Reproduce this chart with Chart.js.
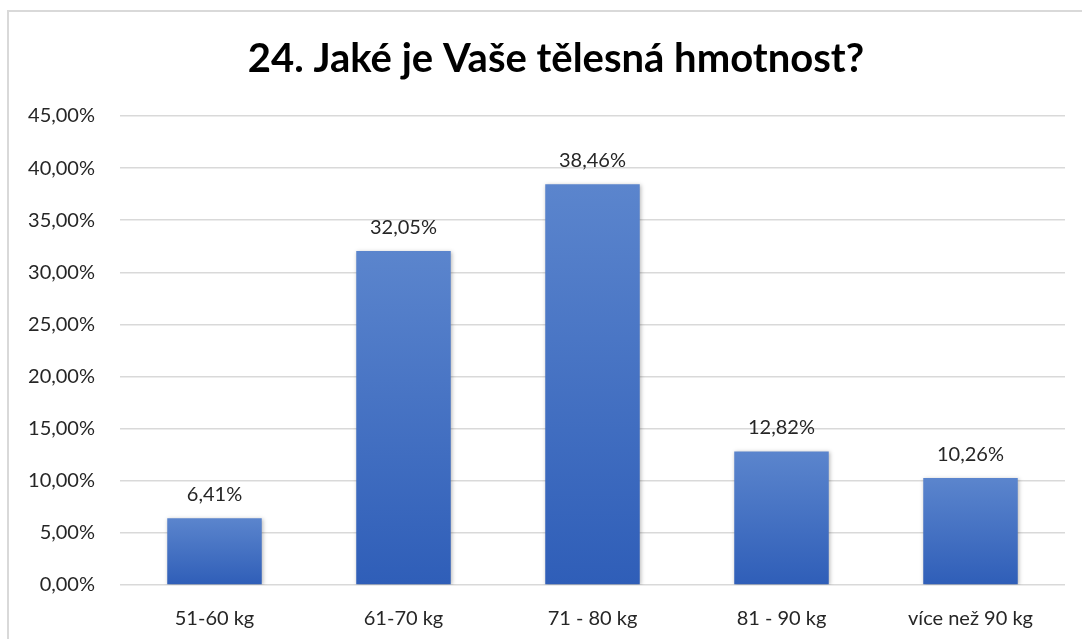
<!DOCTYPE html>
<html>
<head>
<meta charset="utf-8">
<script src="https://cdn.jsdelivr.net/npm/chart.js@4"></script>
<style>
    html, body { margin: 0; padding: 0; background: #fff; }
    #frame { position: absolute; left: 7px; top: 10px; width: 1100px; height: 700px; border-left: 2px solid #d9d9d9; border-top: 2px solid #d9d9d9; }
    #wrap { position: absolute; left: 0; top: 0; width: 1082px; height: 639px; }
</style>
</head>
<body>
<div id="frame"></div>
<div id="wrap"><canvas id="weightChart"></canvas></div>
<script>
// survey answers, question 24 (body weight)

const categories = ['51-60 kg', '61-70 kg', '71 - 80 kg', '81 - 90 kg', 'více než 90 kg'];
const percentValues = [6.41, 32.05, 38.46, 12.82, 10.26];
const yTicks = [0, 5, 10, 15, 20, 25, 30, 35, 40, 45];

const chartTitle = '24. Jaké je Vaše tělesná hmotnost?';
const fontFamily = 'Lato, "Open Sans", sans-serif';

function czPercent(v) {
    return v.toFixed(2).replace('.', ',') + '%';
}

// gradient per bar, light on top, darker at the base
function barGradient(context) {
    const chart = context.chart;
    const area = chart.chartArea;
    if (!area) return '#4472c4';
    const top = chart.scales.y.getPixelForValue(context.raw);
    const g = chart.ctx.createLinearGradient(0, top, 0, area.bottom);
    g.addColorStop(0, '#5b85cd');
    g.addColorStop(1, '#2f5eb8');
    return g;
}

// soft shadow under the bars + value labels on top
const barExtras = {
    id: 'barExtras',
    beforeDatasetsDraw(chart) {
        const ctx = chart.ctx;
        ctx.save();
        ctx.shadowColor = 'rgba(0, 0, 0, 0.28)';
        ctx.shadowBlur = 4;
        ctx.shadowOffsetX = 1;
        ctx.shadowOffsetY = 1;
    },
    afterDatasetsDraw(chart) {
        const ctx = chart.ctx;
        ctx.restore();
        ctx.save();
        ctx.font = '20px ' + fontFamily;
        ctx.fillStyle = '#262626';
        ctx.textAlign = 'center';
        ctx.textBaseline = 'alphabetic';
        chart.getDatasetMeta(0).data.forEach((bar, i) => {
            ctx.fillText(czPercent(percentValues[i]), bar.x, bar.y - 17);
        });
        ctx.restore();
    }
};

const ctx = document.getElementById('weightChart').getContext('2d');

new Chart(ctx, {
    type: 'bar',
    data: {
        labels: categories,
        datasets: [{
            data: percentValues,
            backgroundColor: barGradient,
            borderWidth: 0,
            categoryPercentage: 1,
            barPercentage: 0.5
        }]
    },
    options: {
        responsive: true,
        maintainAspectRatio: false,
        animation: false,
        layout: { padding: { left: 8, right: 17, top: 10, bottom: 8 } },
        scales: {
            x: {
                afterFit: axis => { axis.height = 46; },
                grid: { display: false, drawTicks: false },
                border: { display: false },
                ticks: { color: '#262626', font: { family: fontFamily, size: 20 }, padding: 22, maxRotation: 0 }
            },
            y: {
                min: 0,
                max: 45,
                afterBuildTicks: axis => { axis.ticks = yTicks.map(v => ({ value: v })); },
                afterFit: axis => { axis.width = 112; },
                grid: { color: '#d9d9d9', lineWidth: 1.5, drawTicks: false },
                border: { display: false },
                ticks: {
                    color: '#262626',
                    font: { family: fontFamily, size: 20 },
                    padding: 25,
                    callback: v => czPercent(v)
                }
            }
        },
        plugins: {
            legend: { display: false },
            tooltip: { enabled: false },
            title: {
                display: true,
                // leading spaces nudge the centred title right, as in the original
                text: '    ' + chartTitle,
                color: '#000',
                font: { family: fontFamily, size: 40, weight: 'bold', lineHeight: 1.2 },
                padding: { top: 25, bottom: 33 }
            }
        }
    },
    plugins: [barExtras]
});
</script>
</body>
</html>
